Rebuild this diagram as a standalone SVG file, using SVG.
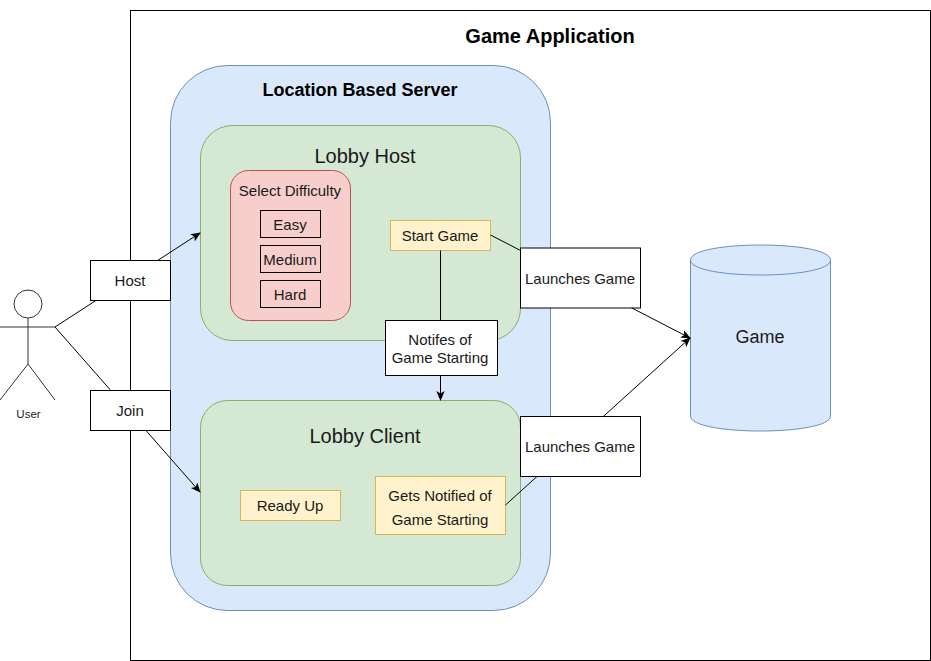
<svg xmlns="http://www.w3.org/2000/svg" width="931" height="661" viewBox="0 0 931 661">
<style>
text{font-family:"Liberation Sans",Arial,sans-serif;fill:#1a1a1a;text-anchor:middle}
.c{fill:none;stroke:#000;stroke-width:1}
.lb{fill:#fff;stroke:#000;stroke-width:1}
.s12{font-size:15px}
.bl{fill:#dae8fc;stroke:#6c8ebf}
.gr{fill:#d5e8d4;stroke:#82b366}
.ye{fill:#fff2cc;stroke:#d6b656}
.re{fill:#f8cecc;stroke:#b85450}
.nf{fill:none;stroke:#000}
.b{font-weight:bold;fill:#000}
</style>
<defs>
<marker id="a" viewBox="0 0 10 10" refX="9" refY="5" markerWidth="10" markerHeight="10" markerUnits="userSpaceOnUse" orient="auto"><path d="M0 0.8L10 5L0 9.2L2.5 5Z" fill="#000"/></marker>
</defs>
<g id="app"><rect x="130.5" y="10.5" width="800" height="650" fill="#fff" stroke="#000"/><text x="550" y="43" class="b" font-size="20">Game Application</text></g>
<g id="server"><rect class="bl" x="170.5" y="65.5" width="380" height="545" rx="57" ry="57"/><text x="360" y="96" class="b" font-size="18">Location Based Server</text></g>
<g id="lobby-host"><rect class="gr" x="200.5" y="125.5" width="320" height="215" rx="32" ry="32"/><text x="365" y="163" font-size="20">Lobby Host</text></g>
<g id="lobby-client"><rect class="gr" x="200.5" y="400.5" width="320" height="185" rx="27" ry="27"/><text x="365" y="443" font-size="20">Lobby Client</text></g>
<g id="select-difficulty"><rect class="re" x="230.5" y="170.5" width="120" height="150" rx="18" ry="18"/><text x="290" y="196" class="s12">Select Difficulty</text></g>
<g id="easy"><rect class="nf" x="260.5" y="210.5" width="60" height="27"/><text x="290" y="230" class="s12">Easy</text></g>
<g id="medium"><rect class="nf" x="260.5" y="245.5" width="60" height="27"/><text x="290" y="265" class="s12">Medium</text></g>
<g id="hard"><rect class="nf" x="260.5" y="280.5" width="60" height="27"/><text x="290" y="300" class="s12">Hard</text></g>
<g id="start-game"><rect class="ye" x="390.5" y="220.5" width="100" height="30"/><text x="440" y="241" class="s12">Start Game</text></g>
<g id="ready-up"><rect class="ye" x="240.5" y="490.5" width="100" height="30"/><text x="290" y="511" class="s12">Ready Up</text></g>
<g id="gets-notified"><rect class="ye" x="375.5" y="476.5" width="130" height="58"/><text x="440" y="501" class="s12">Gets Notified of</text><text x="440" y="525" class="s12">Game Starting</text></g>
<g id="game"><path class="bl" d="M690.5 260C690.5 240 830.5 240 830.5 260V416C830.5 436 690.5 436 690.5 416Z"/><path d="M690.5 260C690.5 280 830.5 280 830.5 260" fill="none" stroke="#6c8ebf"/><text x="760" y="343" font-size="18">Game</text></g>
<g id="user" fill="none" stroke="#333"><circle cx="28" cy="304" r="14"/><path d="M28 318V364M0 327H55M28 364L0 400M28 364L55 400"/><text x="28.500" y="418" font-size="11.500" stroke="none">User</text></g>
<g id="connectors">
<path class="c" d="M55 327L200 233" marker-end="url(#a)"/>
<path class="c" d="M55 327L200 492" marker-end="url(#a)"/>
<path class="c" d="M490.500 235L690 338" marker-end="url(#a)"/>
<path class="c" d="M505.500 505L690 338" marker-end="url(#a)"/>
<path class="c" d="M440.500 250.500V400" marker-end="url(#a)"/>
</g>
<g id="labels">
<rect class="lb" x="90.500" y="260.500" width="80" height="40"/><text x="130" y="286" class="s12">Host</text>
<rect class="lb" x="90.500" y="390.500" width="80" height="40"/><text x="130" y="416" class="s12">Join</text>
<rect class="lb" x="520.500" y="248" width="120" height="60"/><text x="580" y="284" class="s12">Launches Game</text>
<rect class="lb" x="520.500" y="416.500" width="120" height="60"/><text x="580" y="452" class="s12">Launches Game</text>
<rect class="lb" x="385.500" y="320.500" width="112" height="55"/><text x="440" y="345" class="s12">Notifes of</text><text x="440" y="363" class="s12">Game Starting</text>
</g>
</svg>
